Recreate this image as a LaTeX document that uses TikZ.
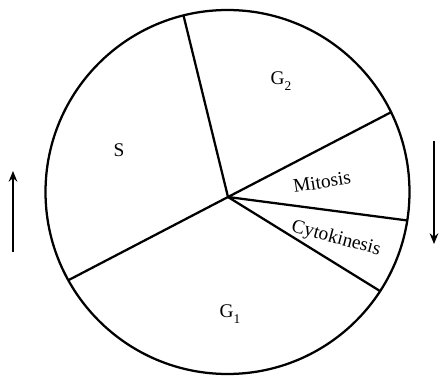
\documentclass[tikz,border=0pt]{standalone}
\usepackage{fontspec}
\setmainfont{Liberation Serif}
\usetikzlibrary{arrows.meta}

\newcommand{\phsub}[1]{\raisebox{-5pt}{\fontsize{10}{12}\selectfont #1}}

\begin{document}
\begin{tikzpicture}[
  x=0.75pt, y=-0.75pt,
  wheel/.style={circle, draw, line width=1.7pt,
                minimum size=273pt, inner sep=0pt, outer sep=0pt},
  phase/.style={font=\fontsize{14.5}{17}\selectfont, inner sep=0pt},
  cut/.style={line width=1.7pt},
  flow/.style={line width=1.7pt, -{Stealth[length=8pt,width=6.5pt]}},
  >=Stealth
]
  \useasboundingbox (0,0) rectangle (440,378);

  \node[wheel] (cyc) at (227.5,192) {};
  \coordinate (hub) at (228,197);

  % phase boundaries
  \draw[cut] (hub) -- (cyc.104);
  \draw[cut] (hub) -- (cyc.26);
  \draw[cut] (hub) -- (cyc.-9.4);
  \draw[cut] (hub) -- (cyc.-33.3);
  \draw[cut] (hub) -- (cyc.209);

  % phase labels
  \node[phase] (s)  at (119,150) {S};
  \node[phase] (g2) at (281,81)  {G\phsub{2}};
  \node[phase] (g1) at (230,314) {G\phsub{1}};
  \node[phase, rotate=9]   (mit) at (322,182) {Mitosis};
  \node[phase, rotate=-15] (cyt) at (336,239) {Cytokinesis};

  % direction arrows
  \coordinate (upB) at (13,252);
  \coordinate (upT) at (13,171);
  \coordinate (dnT) at (434,141);
  \coordinate (dnB) at (434,244);
  \draw[flow] (upB) -- (upT);
  \draw[flow] (dnT) -- (dnB);
\end{tikzpicture}
\end{document}
